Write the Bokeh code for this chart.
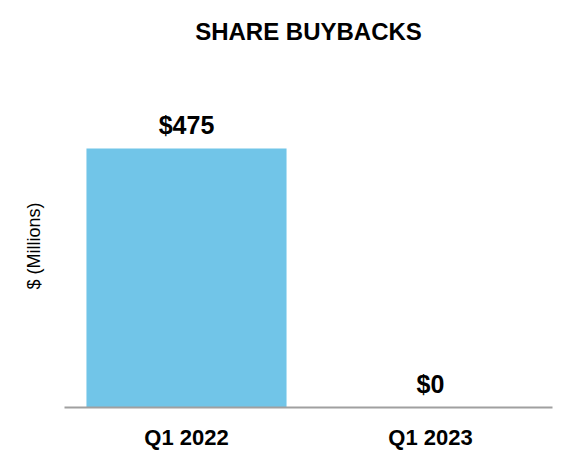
from bokeh.plotting import figure
from bokeh.models import ColumnDataSource, FactorRange, Range1d, Title
from bokeh.core.properties import value
from bokeh.embed import file_html
from bokeh.resources import INLINE

categories = ["Q1 2022", "Q1 2023"]
buybacks = [475, 0]
value_labels = ["$475", "$0"]

FONT = "Liberation Sans"

src = ColumnDataSource(dict(cat=categories, val=buybacks, lab=value_labels))

y_top = 475 * 347 / 259

p = figure(width=572, height=466, output_backend="svg", toolbar_location=None,
           x_range=FactorRange(*categories, range_padding=0),
           y_range=Range1d(0, y_top),
           min_border_left=64, min_border_right=20, min_border_bottom=59, min_border_top=60,
           title="SHARE BUYBACKS")

p.vbar(x="cat", top="val", width=0.82, source=src, color="#71C5E8", line_color=None)

p.text(x="cat", y="val", text="lab", source=src, text_align="center", text_baseline="alphabetic",
       y_offset=-24, text_font=value(FONT), text_font_style="bold", text_font_size="25px",
       text_color="#000000")

p.title.align = "center"
p.title.text_font = FONT
p.title.text_font_size = "24px"
p.title.text_font_style = "bold"
p.title.text_color = "#000000"
p.title.standoff = 31

p.outline_line_color = None
p.xgrid.visible = False
p.ygrid.visible = False
p.background_fill_color = "white"
p.border_fill_color = "white"

xa = p.xaxis[0]
xa.axis_line_color = "#A0A0A0"
xa.axis_line_width = 2
xa.major_tick_line_color = None
xa.minor_tick_line_color = None
xa.major_tick_out = 0
xa.major_tick_in = 0
xa.major_label_standoff = 17
xa.major_label_text_font = FONT
xa.major_label_text_font_style = "bold"
xa.major_label_text_font_size = "22px"
xa.major_label_text_color = "#000000"

p.yaxis.visible = False

ytitle = Title(text="$ (Millions)", align="left", offset=118, standoff=42,
               text_font=FONT, text_font_size="18px", text_font_style="normal",
               text_color="#000000")
p.add_layout(ytitle, "left")

open("out.html", "w").write(file_html(p, INLINE))
